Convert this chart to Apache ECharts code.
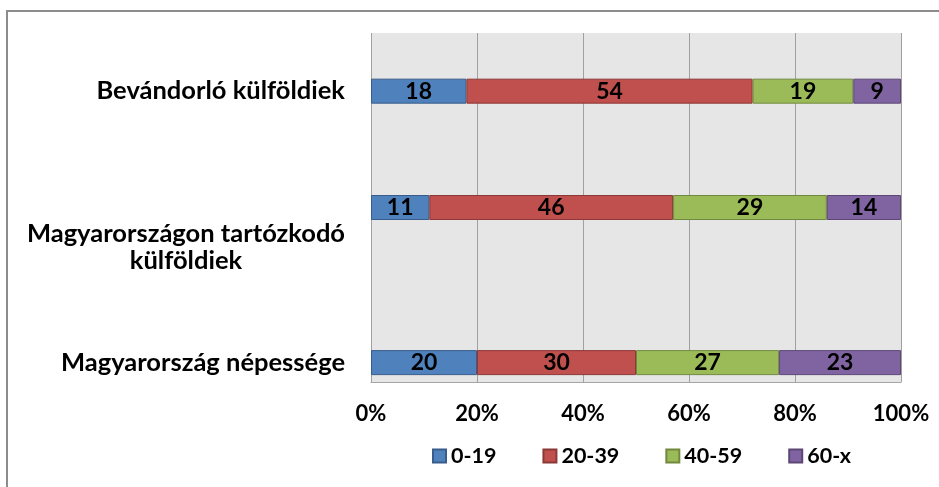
<!DOCTYPE html>
<html>
<head>
<meta charset="utf-8">
<script src="https://cdn.jsdelivr.net/npm/echarts@6/dist/echarts.min.js"></script>
<style>html,body{margin:0;padding:0;background:#fff}#c{width:939px;height:487px}</style>
</head>
<body>
<div id="c"></div>
<script>
// Categories, top to bottom
var categories = ["Bevándorló külföldiek", "Magyarországon tartózkodó külföldiek", "Magyarország népessége"];
var seriesNames = ["0-19", "20-39", "40-59", "60-x"];
var v0_19  = [18, 11, 20];
var v20_39 = [54, 46, 30];
var v40_59 = [19, 29, 27];
var v60_x  = [9, 14, 23];
var xTicks = [0, 20, 40, 60, 80, 100];

// layout of the category axis (uneven spacing in the original)
var slotCount = 9;
var barSlots = [1, 4, 8];
var labelSlots = [1, 5, 8];
var labelTexts = ["Bevándorló külföldiek", "Magyarországon tartózkodó\nkülföldiek", "Magyarország népessége"];

var colors = ['#4f81bd', '#c0504d', '#9bbb59', '#8064a2'];
var borders = ['#385d8a', '#8c3836', '#71893f', '#5c4776'];
var FONT = 'Lato';

var slotKeys = [];
for (var i = 0; i < slotCount; i++) slotKeys.push('slot' + i);
function labelFor(idx) {
  var k = labelSlots.indexOf(idx);
  if (k < 0) return '';
  var lines = labelTexts[k].split('\n');
  var body = lines.map(function (l) { return '{c|' + l + '}'; }).join('\n');
  return lines.length > 1 ? '{sp| }\n' + body : body;
}
function spread(vals) {
  var out = [];
  for (var i = 0; i < slotCount; i++) out.push('-');
  barSlots.forEach(function (s, k) { out[s] = vals[k]; });
  return out;
}
var allVals = [v0_19, v20_39, v40_59, v60_x];

var chart = echarts.init(document.getElementById('c'));
chart.setOption({
  animation: false,
  backgroundColor: '#fff',
  textStyle: { fontFamily: FONT },
  graphic: [{
    type: 'polyline', silent: true,
    shape: { points: [[7, 487], [7, 11], [939, 11]] },
    style: { stroke: '#8c8c8c', lineWidth: 2, fill: null }
  }],
  grid: {
    left: 371, top: 33, width: 530, height: 349,
    show: true, backgroundColor: '#e6e6e6', borderWidth: 0
  },
  legend: {
    left: 427, top: 440,
    itemWidth: 13, itemHeight: 13, itemGap: 46,
    icon: 'rect',
    data: seriesNames,
    textStyle: { fontFamily: FONT, fontWeight: 'bold', fontSize: 21.5, color: '#000' }
  },
  xAxis: {
    type: 'value', min: 0, max: 100, interval: 20,
    axisLine: { show: true, lineStyle: { color: '#a6a6a6', width: 1 } },
    axisTick: { show: false },
    splitLine: { show: true, showMinLine: true, showMaxLine: true, lineStyle: { color: '#a0a0a0', width: 1 } },
    axisLabel: {
      margin: 21,
      fontFamily: FONT, fontWeight: 'bold', fontSize: 22, color: '#000',
      formatter: function (v) { return xTicks.indexOf(v) >= 0 ? v + '%' : ''; }
    }
  },
  yAxis: {
    type: 'category', inverse: true, data: slotKeys,
    axisLine: { show: false }, axisTick: { show: false }, splitLine: { show: false },
    axisLabel: {
      interval: 0, margin: 26, align: 'right',
      fontFamily: FONT, fontWeight: 'bold', fontSize: 26, color: '#000',
      formatter: function (v, idx) { return labelFor(idx); },
      rich: {
        c: { align: 'center', fontFamily: FONT, fontWeight: 'bold', fontSize: 25.5, color: '#000', lineHeight: 27 },
        sp: { fontSize: 1, lineHeight: 3 }
      }
    }
  },
  series: seriesNames.map(function (n, k) {
    return {
      name: n, type: 'bar', stack: 'total', barWidth: 25,
      data: spread(allVals[k]),
      itemStyle: { color: colors[k], borderColor: borders[k], borderWidth: 1 },
      label: {
        show: true, position: 'inside',
        fontFamily: FONT, fontWeight: 'bold', fontSize: 23, color: '#000'
      }
    };
  })
});
</script>
</body>
</html>
